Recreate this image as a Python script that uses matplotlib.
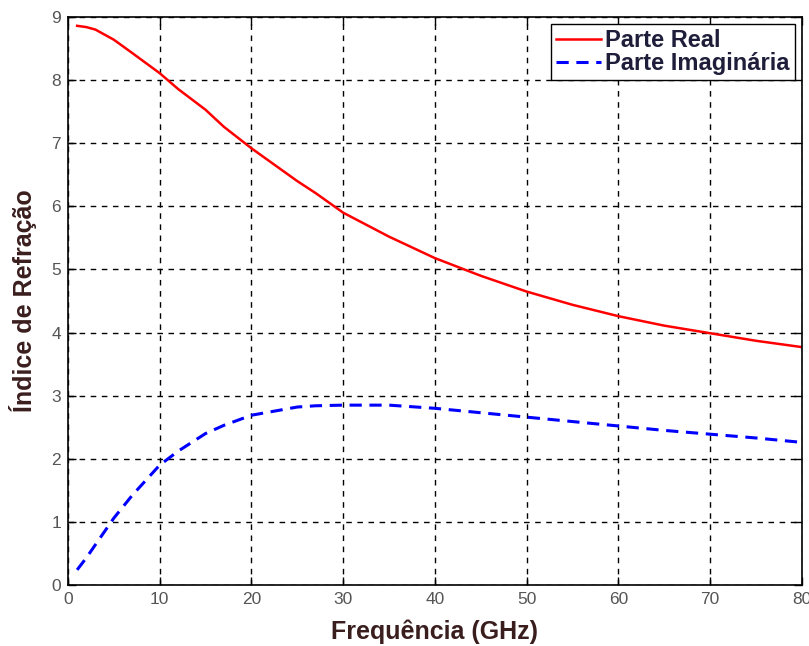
import matplotlib.pyplot as plt

freq = [1, 2, 3, 5, 7, 10, 12, 15, 17, 20, 25, 27, 30, 35, 40, 45, 50, 55, 60, 65, 70, 75, 80]
n_real = [8.86, 8.84, 8.80, 8.64, 8.43, 8.11, 7.86, 7.53, 7.26, 6.92, 6.40, 6.21, 5.90, 5.52, 5.18, 4.90, 4.65, 4.44, 4.26, 4.11, 3.99, 3.87, 3.77]
n_imag = [0.24, 0.43, 0.64, 1.06, 1.42, 1.90, 2.12, 2.40, 2.53, 2.69, 2.82, 2.84, 2.85, 2.85, 2.80, 2.73, 2.66, 2.59, 2.52, 2.45, 2.39, 2.33, 2.26]

plt.rcParams['font.family'] = ['Liberation Sans', 'DejaVu Sans']

fig = plt.figure(figsize=(8.09, 6.46), dpi=100)
ax = plt.axes([0.084, 0.0944, 0.907, 0.8793])

ax.plot(freq, n_real, '-', color='#ff0000', lw=1.8, label='Parte Real')
ax.plot(freq, n_imag, '--', color='#0000ff', lw=2.2, dashes=(4, 2.5), label='Parte Imaginária')

ax.set_xlim(0, 80)
ax.set_ylim(0, 9)
ax.set_xticks(range(0, 81, 10))
ax.set_yticks(range(0, 10))
ax.grid(True, color='black', ls=(0, (4, 4)), lw=1)
ax.tick_params(direction='in', top=True, right=True, labelsize=12.5,
               labelcolor='#555555', length=6, width=1, pad=5)
for s in ax.spines.values():
    s.set_linewidth(1.2)

ax.set_xlabel('Frequência (GHz)', fontsize=18, fontweight='bold', color='#3a1e1e', labelpad=9)
ax.set_ylabel('Índice de Refração', fontsize=18, fontweight='bold', color='#3a1e1e', labelpad=10)

leg = ax.legend(loc='upper right', prop={'size': 17, 'weight': 'bold'}, frameon=True, fancybox=False,
                framealpha=1, edgecolor='black', borderpad=0.2, labelspacing=0.0,
                handlelength=1.9, handletextpad=0.2, borderaxespad=0.3)
leg.get_frame().set_linewidth(1)
for t in leg.get_texts():
    t.set_color('#1e1e3a')

plt.savefig('out.png', dpi=100)
